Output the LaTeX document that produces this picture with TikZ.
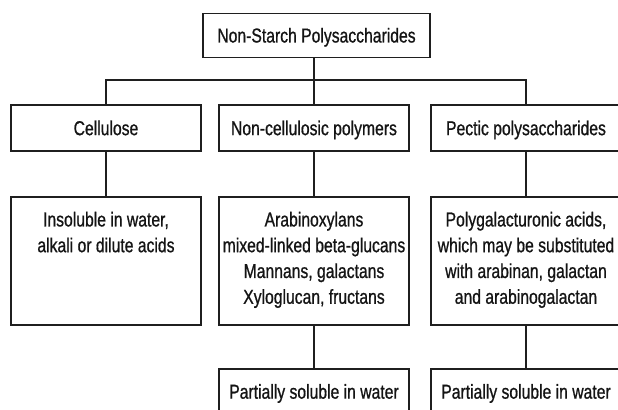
\documentclass[tikz,border=0pt]{standalone}
\usepackage{fontspec}
\setmainfont{Liberation Sans}[FakeStretch=0.78,FakeBold=0.8]
\usepackage{tikz}

\begin{document}
\begin{tikzpicture}[line width=1.3pt,font=\fontsize{17.2}{22}\selectfont,
  headbox/.style={draw=black!88,text=black!92,minimum width=5.7cm,minimum height=1.38cm,text height=0.43cm,text depth=0pt},
  leafbox/.style={draw=black!88,text=black!92,minimum width=5.7cm,inner xsep=0.1cm,inner ysep=0.446cm}]
\useasboundingbox (0,0) rectangle (18.54,12.27);
\clip (0,0) rectangle (18.54,12.27);
\node[headbox,minimum width=6.81cm,minimum height=1.32cm] (nsp) at (9.495,11.21) {Non-Starch Polysaccharides};
\node[headbox] (cel) at (3.18,8.43) {Cellulose};
\node[headbox] (ncp) at (9.42,8.43) {Non-cellulosic polymers};
\node[headbox] (pec) at (15.78,8.43) {Pectic polysaccharides};
\node[leafbox] (celsol) at (3.18,4.44) {\parbox[c][2.95cm][t]{5.5cm}{\centering Insoluble in water,\\ alkali or dilute acids}};
\node[leafbox] (ncptyp) at (9.42,4.44) {\parbox[c][2.95cm][t]{5.5cm}{\centering Arabinoxylans\\ mixed-linked beta-glucans\\ Mannans, galactans\\ Xyloglucan, fructans}};
\node[leafbox] (pectyp) at (15.78,4.44) {\parbox[c][2.95cm][t]{5.5cm}{\centering Polygalacturonic acids,\\ which may be substituted\\ with arabinan, galactan\\ and arabinogalactan}};
\node[headbox,minimum height=1.35cm] (ncpsol) at (9.42,0.525) {Partially soluble in water};
\node[headbox,minimum height=1.35cm] (pecsol) at (15.78,0.525) {Partially soluble in water};
\coordinate (bus) at (9.42,9.87);
\draw[black!88] (nsp.south -| ncp.north) -- (ncp.north);
\draw[black!88] (cel.north) |- (bus) -| (pec.north);
\draw[black!88] (cel.south) -- (celsol.north);
\draw[black!88] (ncp.south) -- (ncptyp.north);
\draw[black!88] (pec.south) -- (pectyp.north);
\draw[black!88] (ncptyp.south) -- (ncpsol.north);
\draw[black!88] (pectyp.south) -- (pecsol.north);
\end{tikzpicture}
\end{document}
